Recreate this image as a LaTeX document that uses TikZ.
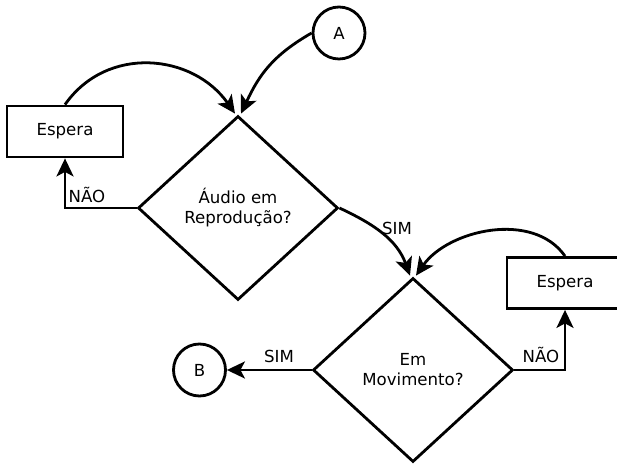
\documentclass[tikz,border=0pt]{standalone}
\usepackage{fontspec}
\setmainfont{DejaVu Sans}
\usetikzlibrary{shapes.geometric,arrows.meta}
\begin{document}
\begin{tikzpicture}[x=1pt,y=1pt,
  every node/.style={font=\fontsize{16.6}{20}\selectfont},
  box/.style={draw,line width=2.8pt,minimum width=116pt,minimum height=51pt,inner sep=0pt},
  dec/.style={draw,diamond,line width=2.8pt,minimum width=200pt,minimum height=184pt,inner sep=0pt,align=center},
  conn/.style={draw,circle,line width=2.8pt,minimum size=52pt,inner sep=0pt},
  arr/.style={line width=2.8pt,-{Stealth[length=18pt,width=17pt,inset=4.5pt]}},
  lbl/.style={inner sep=1pt}]
\useasboundingbox (0,0) rectangle (617,465);
\node[conn] (A) at (339,432) {A};
\node[box] (e1) at (65,333.5) {Espera};
\node[dec] (d1) at (238,257) {Áudio em\\Reprodução?};
\node[box] (e2) at (565,182) {Espera};
\node[dec] (d2) at (413,95) {Em\\Movimento?};
\node[conn] (B) at (199.5,95) {B};
\coordinate (t1l) at ([xshift=-3pt,yshift=1pt]d1.north);
\coordinate (t1r) at ([xshift=3pt,yshift=1pt]d1.north);
\coordinate (t2l) at ([xshift=-3pt,yshift=1pt]d2.north);
\coordinate (t2r) at ([xshift=3pt,yshift=1pt]d2.north);
\coordinate (c1) at (65,257);
\coordinate (c2) at (565,95);
\draw[arr] (e1.north) to[out=55,in=125,looseness=1.1] (t1l);
\draw[arr] (A.west) to[out=210,in=65,looseness=1.05] (t1r);
\draw[arr] (d1.west) -- (c1) -- (e1.south);
\node[lbl] (n1) at (87,270) {NÃO};
\draw[arr] (d1.east) to[out=-25,in=110] (t2l);
\node[lbl] (s1) at (397,237) {SIM};
\draw[arr] (e2.north) to[out=125,in=55,looseness=0.95] (t2r);
\draw[arr] (d2.east) -- (c2) -- (e2.south);
\node[lbl] (n2) at (541,110) {NÃO};
\draw[arr] (d2.west) -- (B.east);
\node[lbl] (s2) at (279,109) {SIM};
\end{tikzpicture}
\end{document}
